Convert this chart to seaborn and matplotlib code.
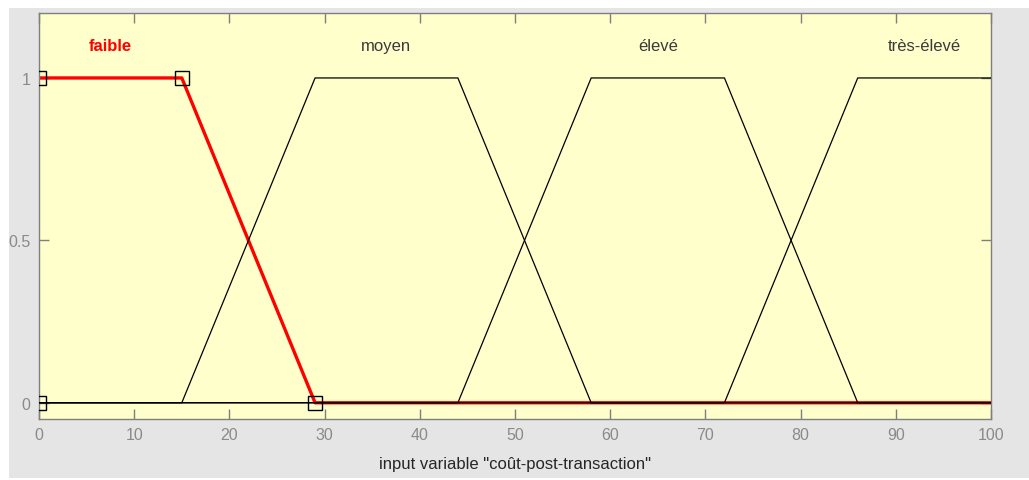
import matplotlib
matplotlib.use("Agg")
import matplotlib.pyplot as plt
import seaborn as sns
import pandas as pd
from matplotlib.patches import Rectangle

# membership functions of input "coût-post-transaction" (trapmf params a b c d)
mf_names = ["faible", "moyen", "élevé", "très-élevé"]
mf_params = [
    [0, 0, 15, 29],
    [15, 29, 44, 58],
    [44, 58, 72, 86],
    [72, 86, 100, 100],
]
selected = "faible"
x_range = [0, 100]
x_ticks = [0, 10, 20, 30, 40, 50, 60, 70, 80, 90, 100]
y_ticks = [0, 0.5, 1]
y_ticklabels = ["0", "0.5", "1"]
x_label = 'input variable "coût-post-transaction"'

sns.set_style("ticks")
plt.rcParams["font.family"] = ["Liberation Sans", "DejaVu Sans"]

# build the polyline of each trapezoid over the whole input range
rows = []
for name, (a, b, c, d) in zip(mf_names, mf_params):
    xs, ys = [], []
    if a > x_range[0]:
        xs += [x_range[0], a]
        ys += [0, 0]
    xs += [b, c]
    ys += [1, 1]
    if d < x_range[1]:
        xs += [d, x_range[1]]
        ys += [0, 0]
    for i, (xv, yv) in enumerate(zip(xs, ys)):
        rows.append({"mf": name, "order": i, "x": xv, "y": yv})
df = pd.DataFrame(rows)

fig = plt.figure(figsize=(10.29, 4.81), dpi=100)
fig.patch.set_facecolor("white")
fig.patches.append(Rectangle((9 / 1029, 2 / 481), 1 - 9 / 1029, (472 - 2) / 481,
                             transform=fig.transFigure, facecolor="#e5e5e5",
                             edgecolor="none", zorder=-10))

ax = fig.add_axes([39 / 1029, 61 / 481, 952 / 1029, 406 / 481])
ax.set_facecolor("#ffffcc")

# selected MF in thick red, below the black ones
sel = df[df["mf"] == selected]
sns.lineplot(data=sel, x="x", y="y", sort=False, estimator=None,
             color="red", linewidth=2.4, ax=ax, zorder=2)
for name in mf_names:
    if name == selected:
        continue
    part = df[df["mf"] == name]
    sns.lineplot(data=part, x="x", y="y", sort=False, estimator=None,
                 color="black", linewidth=0.9, ax=ax, zorder=3)

# square handles on the selected MF parameters
a, b, c, d = mf_params[mf_names.index(selected)]
ax.plot([a, b, c, d], [0, 1, 1, 0], linestyle="none", marker="s", markersize=9.5,
        markerfacecolor="none", markeredgecolor="black", markeredgewidth=1.0,
        zorder=4)

# MF labels above the plateau
for name, (a, b, c, d) in zip(mf_names, mf_params):
    if name == selected:
        ax.text((b + c) / 2, 1.1, name, color="red", fontsize=12,
                fontweight="bold", ha="center", va="center")
    else:
        ax.text((b + c) / 2, 1.1, name, color="#3a3a3a", fontsize=12,
                ha="center", va="center")

ax.set_xlim(x_range)
ax.set_ylim(-0.05, 1.2)
ax.set_xticks(x_ticks)
ax.set_yticks(y_ticks)
ax.set_yticklabels(y_ticklabels)
ax.tick_params(direction="in", length=7, width=1, color="#7f7f7f",
               labelcolor="#8a8a8a", labelsize=11.5, top=True, right=True, pad=6)
for s in ax.spines.values():
    s.set_color("#7f7f7f")
    s.set_linewidth(1.0)
ax.set_xlabel(x_label, fontsize=12, color="#262626", labelpad=10)
ax.set_ylabel("")

# white margin on the left that clips the tick labels like the screenshot
fig.patches.append(Rectangle((0, 0), 9 / 1029, 1, transform=fig.transFigure,
                             facecolor="white", edgecolor="none", zorder=10))

fig.savefig("out.png", dpi=100)
